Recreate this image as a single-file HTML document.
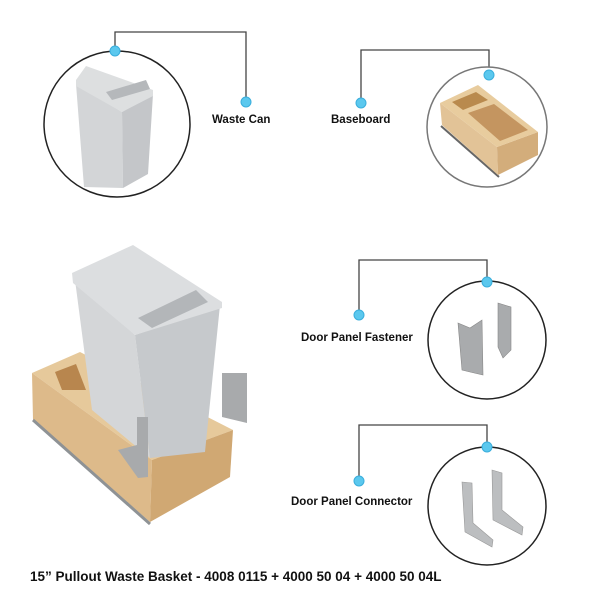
<!DOCTYPE html>
<html><head><meta charset="utf-8"><style>
html,body{margin:0;padding:0;background:#fff;}
svg{display:block}
text{font-family:"Liberation Sans",Arial,sans-serif;font-weight:bold;fill:#111;}
</style></head><body>
<svg width="600" height="600" viewBox="0 0 600 600">
<g fill="none" stroke="#444" stroke-width="1.3">
<polyline points="115,51 115,32 246,32 246,102"/>
<polyline points="489,75 489,50 361,50 361,103"/>
<polyline points="487,282 487,260 359,260 359,315"/>
<polyline points="487,447 487,425 359,425 359,481"/>
</g>
<g fill="#fff" stroke="#222" stroke-width="1.5">
<circle cx="117" cy="124" r="73"/>
<circle cx="487" cy="127" r="60" stroke="#777"/>
<circle cx="487" cy="340" r="59"/>
<circle cx="487" cy="506" r="59"/>
</g>
<!-- waste can in circle -->
<g>
<polygon points="76,84 122,112 123,188 84,187" fill="#d3d5d7"/>
<polygon points="122,112 153,94 148,174 123,188" fill="#c4c6c9"/>
<polygon points="76,80 86,66 153,90 153,96 122,112 76,86" fill="#dddfe0"/>
<polygon points="106,92 146,80 150,89 112,100" fill="#b5b8bb"/>
</g>
<!-- baseboard -->
<g>
<line x1="441" y1="126" x2="499" y2="177" stroke="#666" stroke-width="2"/>
<polygon points="440,103 497,147 498,175 442,125" fill="#e2c397"/>
<polygon points="497,147 538,132 538,155 498,175" fill="#d3ad7b"/>
<polygon points="440,103 478,85 538,132 497,147" fill="#e8cc9e"/>
<polygon points="452,102 476,92 488,100 463,110" fill="#b98a4e"/>
<polygon points="468,113 494,104 528,130 500,141" fill="#c49560"/>
</g>
<!-- fastener -->
<g fill="#a9abad" stroke="#888" stroke-width=".6">
<polygon points="458,323 470,328 482,320 483,375 470,372 462,370"/>
<polygon points="498,303 511,307 511,350 503,358 498,347"/>
</g>
<!-- connector -->
<g fill="#bcbec0" stroke="#999" stroke-width=".6">
<path d="M462,482 L472,483 L473,523 L493,540 L492,547 L465,532 Z"/>
<path d="M492,470 L502,473 L502,510 L523,527 L522,535 L493,520 Z"/>
</g>
<!-- main product -->
<g>
<polygon points="32,373 80,352 233,430 152,460" fill="#e6c99b"/>
<polygon points="32,373 152,460 150,522 33,420" fill="#ddba8a"/>
<polygon points="152,460 233,430 230,477 150,522" fill="#d0a873"/>
<polygon points="55,372 76,364 86,390 62,390" fill="#b8864e"/>
<line x1="33" y1="420" x2="150" y2="524" stroke="#8e9295" stroke-width="3"/>
<polygon points="75,280 135,335 150,458 92,410" fill="#d4d6d8"/>
<polygon points="135,335 220,305 205,452 150,458" fill="#c6c9cc"/>
<polygon points="72,273 133,245 222,302 222,308 135,335 73,283" fill="#dcdee0"/>
<polygon points="138,318 196,290 208,302 152,328" fill="#b3b6b9"/>
<polygon points="222,373 247,373 247,423 222,417" fill="#a8aaac"/>
<polygon points="137,417 148,417 148,477 138,478 118,450 137,445" fill="#a8aaac"/>
</g>
<g fill="#5bc8ee" stroke="#3aaedc" stroke-width="1">
<circle cx="115" cy="51" r="5"/><circle cx="246" cy="102" r="5"/>
<circle cx="489" cy="75" r="5"/><circle cx="361" cy="103" r="5"/>
<circle cx="487" cy="282" r="5"/><circle cx="359" cy="315" r="5"/>
<circle cx="487" cy="447" r="5"/><circle cx="359" cy="481" r="5"/>
</g>
<text x="212" y="123" font-size="11.5">Waste Can</text>
<text x="331" y="123" font-size="11.5">Baseboard</text>
<text x="301" y="341" font-size="11.5">Door Panel Fastener</text>
<text x="291" y="505" font-size="11.5">Door Panel Connector</text>
<text x="30" y="581" font-size="13.5">15” Pullout Waste Basket - 4008 0115 + 4000 50 04 + 4000 50 04L</text>
</svg>
</body></html>
